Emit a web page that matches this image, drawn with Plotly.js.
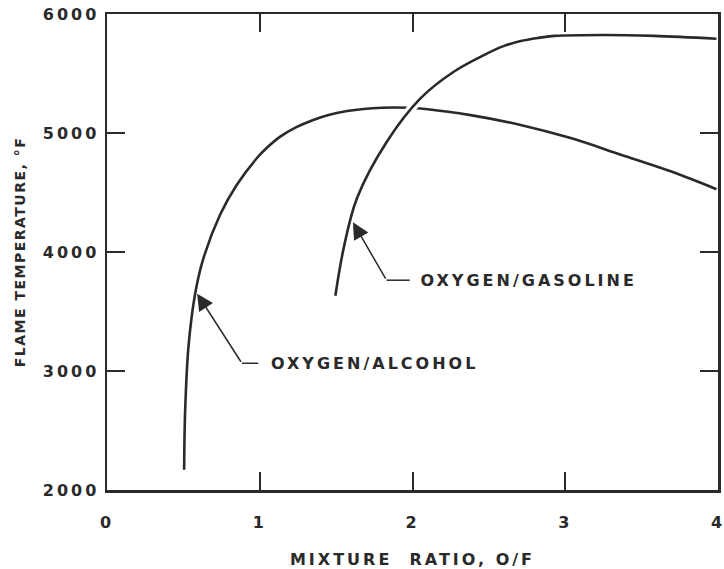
<!DOCTYPE html>
<html>
<head>
<meta charset="utf-8">
<script src="https://cdn.plot.ly/plotly-3.0.1.min.js"></script>
<style>
  html, body { margin: 0; padding: 0; background: #ffffff; }
  #chart { width: 724px; height: 569px; }
  #chart text { letter-spacing: 3px; }
  #chart .g-ytitle text { letter-spacing: 1.5px; }
</style>
</head>
<body>
<div id="chart"></div>
<script>
// Mixture ratio (O/F) and flame temperature (°F)
const alcoholRatio = [0.505, 0.511, 0.533, 0.577, 0.632, 0.741, 0.850, 0.982, 1.05, 1.134, 1.24, 1.35, 1.45, 1.572, 1.80, 1.97, 2.10, 2.38, 2.708, 3.036, 3.364, 3.69, 3.99];
const alcoholTemp  = [2170, 2640, 3200, 3650, 3950, 4315, 4565, 4790, 4880, 4970, 5050, 5110, 5152, 5185, 5212, 5212, 5200, 5150, 5068, 4957, 4818, 4678, 4528];

const gasolineRatio = [1.495, 1.55, 1.637, 1.833, 2.052, 2.27, 2.49, 2.6, 2.708, 2.82, 2.927, 3.254, 3.582, 3.99];
const gasolineTemp  = [3632, 4036, 4454, 4929, 5291, 5515, 5669, 5732, 5773, 5799, 5816, 5824, 5816, 5792];

const xTickVals = [0, 1, 2, 3, 4];
const xTickText = ['0', '1', '2', '3', '4'];
const yTickVals = [2000, 3000, 4000, 5000, 6000];
const yTickText = ['2000', '3000', '4000', '5000', '6000'];

const labelAlcohol = 'OXYGEN/ALCOHOL';
const labelGasoline = 'OXYGEN/GASOLINE';

const ink = '#2a2a2a';
const fontFam = '"DejaVu Sans", "Liberation Sans", sans-serif';

const traces = [
  { x: alcoholRatio, y: alcoholTemp, mode: 'lines', name: labelAlcohol,
    line: { color: ink, width: 2.6, shape: 'spline', smoothing: 1 }, hoverinfo: 'skip' },
  { x: gasolineRatio, y: gasolineTemp, mode: 'lines', name: 'gap', showlegend: false,
    line: { color: '#ffffff', width: 9, shape: 'spline', smoothing: 1 }, hoverinfo: 'skip' },
  { x: gasolineRatio, y: gasolineTemp, mode: 'lines', name: labelGasoline,
    line: { color: ink, width: 2.6, shape: 'spline', smoothing: 1 }, hoverinfo: 'skip' }
];

const tickFont = { family: fontFam, size: 16, color: ink, weight: 700 };
const noteFont = { family: fontFam, size: 16, color: ink, weight: 700 };

const layout = {
  width: 724, height: 569,
  margin: { l: 107, r: 6, t: 14, b: 79 },
  paper_bgcolor: '#ffffff', plot_bgcolor: '#ffffff',
  showlegend: false,
  xaxis: {
    range: [0, 4], tickvals: xTickVals, ticktext: xTickText,
    ticks: 'inside', ticklen: 18, tickwidth: 2, tickcolor: ink,
    showline: true, linecolor: ink, linewidth: 2.5, mirror: 'ticks',
    showgrid: false, zeroline: false, tickfont: tickFont, ticklabelstandoff: 16,
    title: { text: 'MIXTURE\u00a0 RATIO, O/F', font: tickFont, standoff: 26 },
    automargin: false
  },
  yaxis: {
    range: [2000, 6000], tickvals: yTickVals, ticktext: yTickText,
    ticks: 'inside', ticklen: 18, tickwidth: 2, tickcolor: ink,
    showline: true, linecolor: ink, linewidth: 2.5, mirror: 'ticks',
    showgrid: false, zeroline: false, tickfont: tickFont, ticklabelstandoff: 2,
    title: { text: 'FLAME TEMPERATURE, °F', font: { family: fontFam, size: 14, color: ink, weight: 700 }, standoff: 26 },
    automargin: false
  },
  annotations: [
    { x: 0.59, y: 3650, ax: 0.883, ay: 3065, xref: 'x', yref: 'y', axref: 'x', ayref: 'y',
      text: '', showarrow: true, arrowhead: 2, arrowsize: 2.2, arrowwidth: 1.5, arrowcolor: ink, standoff: 0 },
    { x: 1.07, y: 3065, xref: 'x', yref: 'y', text: labelAlcohol, showarrow: false, xshift: 20,
      xanchor: 'left', yanchor: 'middle', font: noteFont },
    { x: 1.61, y: 4250, ax: 1.83, ay: 3763, xref: 'x', yref: 'y', axref: 'x', ayref: 'y',
      text: '', showarrow: true, arrowhead: 2, arrowsize: 2.2, arrowwidth: 1.5, arrowcolor: ink, standoff: 0 },
    { x: 2.052, y: 3763, xref: 'x', yref: 'y', text: labelGasoline, showarrow: false, xshift: 21,
      xanchor: 'left', yanchor: 'middle', font: noteFont }
  ],
  shapes: [
    { type: 'line', xref: 'x', yref: 'y', x0: 0.883, y0: 3065, x1: 0.99, y1: 3065, line: { color: ink, width: 1.5 } },
    { type: 'line', xref: 'x', yref: 'y', x0: 1.83, y0: 3763, x1: 1.982, y1: 3763, line: { color: ink, width: 1.5 } }
  ]
};

Plotly.newPlot('chart', traces, layout, { displayModeBar: false, staticPlot: true });
</script>
</body>
</html>
